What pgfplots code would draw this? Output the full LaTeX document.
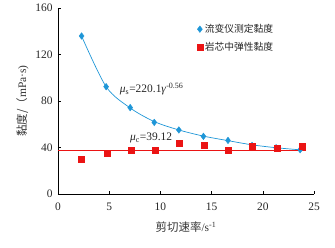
\documentclass[border=0pt]{standalone}
\usepackage{pgfplots}
\pgfplotsset{compat=1.18}
\usepackage{fontspec}
\setmainfont{Liberation Serif}
\newfontfamily\cjk{Noto Sans CJK SC}

\definecolor{rheoblue}{RGB}{30,150,215}
\definecolor{corered}{RGB}{235,20,20}

\begin{document}
\begin{tikzpicture}
\begin{axis}[
  scale only axis, width=256bp, height=186bp,
  xmin=0, xmax=25, ymin=0, ymax=160,
  xtick={0,5,...,25}, ytick={0,40,...,160},
  axis x line*=bottom, axis y line*=left,
  tick align=inside, major tick length=3bp,
  tick style={black, thin},
  axis line style={black, thin},
  tick label style={font=\fontsize{11.5}{13}\selectfont, text=black!85},
  xticklabel style={yshift=-5bp},
  yticklabel style={xshift=-2bp},
  /pgf/number format/assume math mode=true,
  xlabel={{\cjk 剪切速率}/s\textsuperscript{-1}},
  ylabel={{\cjk 黏度/（}mPa·s)},
  label style={font=\fontsize{11.5}{13}\selectfont, text=black!80},
  xlabel style={yshift=-5bp},
  legend style={at={(rel axis cs:0.53,0.935)}, anchor=north west,
    draw=none, fill=none, font=\cjk\fontsize{9.8}{11}\selectfont,
    row sep=4bp, text=black!85},
  legend cell align=left,
]
% trend lines first
\addplot[rheoblue, line width=0.7bp, smooth, forget plot] coordinates {
  (2.3,135.9) (4.7,92.3) (7.05,74.0) (9.4,62.3) (11.8,55.1)
  (14.2,49.8) (16.6,45.9) (18.95,42.3) (21.3,39.8) (23.65,38.0)
};
\addplot[corered, line width=0.8bp, forget plot] coordinates {(0,37.2) (24.2,37.2)};
% measured points
\addplot[only marks, mark=diamond*, mark size=3.3bp, color=rheoblue] coordinates {
  (2.3,135.9) (4.7,92.3) (7.05,74.3) (9.4,61.6) (11.8,55.1)
  (14.2,49.6) (16.6,46.1) (18.95,41.8) (21.3,39.8) (23.65,38.1)
};
\addlegendentry{流变仪测定黏度}
\addplot[only marks, mark=square*, mark size=3bp, color=corered] coordinates {
  (2.31,30.1) (4.79,35.3) (7.13,37.8) (9.47,37.3) (11.8,43.3)
  (14.3,41.9) (16.6,37.8) (19.0,40.7) (21.4,39.3) (23.8,40.7)
};
\addlegendentry{岩芯中弹性黏度}
\node[anchor=west, font=\fontsize{11.5}{13}\selectfont, text=black!85] at (axis cs:5.7,90)
  {\textit{μ}\textsubscript{s}=220.1\textit{γ}\textsuperscript{-0.56}};
\node[anchor=west, font=\fontsize{11.5}{13}\selectfont, text=black!85] at (axis cs:6.7,48)
  {\textit{μ}\textsubscript{c}=39.12};
\end{axis}
\pgfresetboundingbox
\path (current axis.south west) ++(-58bp,-54bp) coordinate (bbA);
\path (current axis.south west) ++(277bp,194bp) coordinate (bbB);
\useasboundingbox (bbA) rectangle (bbB);
\end{tikzpicture}
\end{document}
